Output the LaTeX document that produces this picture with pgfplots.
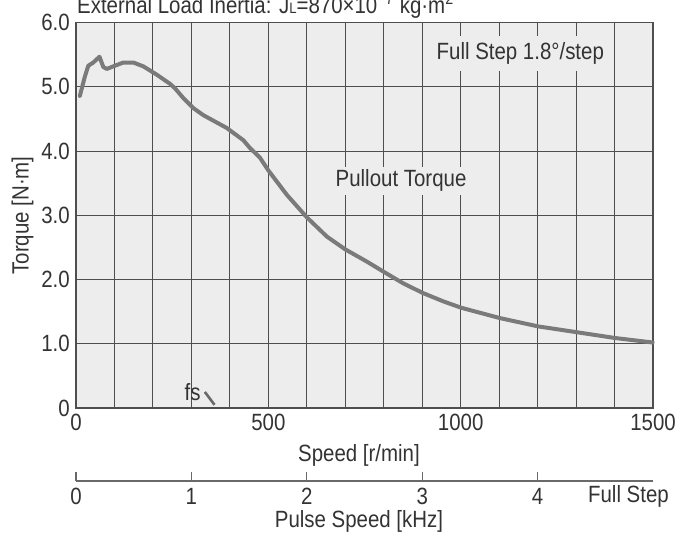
\documentclass[border=0pt]{standalone}
\usepackage{fontspec}
\setmainfont{Liberation Sans}[FakeStretch=0.87]
\usepackage{pgfplots}
\pgfplotsset{compat=1.18}
\definecolor{bgc}{HTML}{EDEDED}
\definecolor{gridc}{HTML}{4E4E4E}
\definecolor{curvec}{HTML}{7A7A7A}
\definecolor{txt}{HTML}{333333}
\newcommand\fs{\fontsize{23.5pt}{27pt}\selectfont}
\begin{document}
\begin{tikzpicture}
\useasboundingbox (-76pt,-126pt) rectangle (603pt,408pt);
\begin{axis}[
  at={(0pt,0pt)}, anchor=south west,
  scale only axis, width=577pt, height=385.3pt,
  xmin=0, xmax=1500, ymin=0, ymax=6,
  xtick={0,500,1000,1500}, xticklabels={0,500,1000,1500},
  minor xtick={100,200,...,1400},
  ytick={0,1,2,3,4,5,6}, yticklabels={0,1.0,2.0,3.0,4.0,5.0,6.0},
  grid=both,
  major grid style={gridc, line width=1.1pt},
  minor grid style={gridc, line width=1.1pt},
  major tick length=0pt, minor tick length=0pt,
  axis background/.style={fill=bgc},
  axis line style={gridc, line width=1.2pt},
  /pgf/number format/assume math mode=true,
  tick label style={font=\fs, text=txt},
  xticklabel style={inner sep=0pt, anchor=north, yshift=-5.5pt},
  yticklabel style={inner sep=0pt, anchor=east, xshift=-6pt},
  clip=false,
]
\addplot[curvec, line width=4pt, line join=round, line cap=round] coordinates {
 (10,4.86) (23,5.16) (32,5.33) (45,5.38) (61,5.47) (71,5.31) (80,5.28)
 (97,5.32) (123,5.38) (149,5.38) (175,5.32) (210,5.19) (244,5.05) (257,4.98)
 (280,4.82) (305,4.67) (331,4.56) (392,4.36) (435,4.17) (452,4.05) (478,3.9)
 (500,3.70) (548,3.32) (600,2.97) (652,2.67) (700,2.47) (756,2.28) (803,2.11)
 (851,1.94) (902,1.79) (955,1.66) (1002,1.56) (1102,1.40) (1202,1.27)
 (1302,1.18) (1401,1.09) (1499,1.02)
};
\addplot[gridc!85, line width=2.6pt] coordinates {(335,0.25) (360,0.05)};
\node[fill=bgc, inner xsep=5pt, inner ysep=6.5pt, font=\fs, text=txt] at (axis cs:1155,5.515) {Full Step 1.8°/step};
\node[fill=bgc, inner xsep=4pt, inner ysep=3pt, font=\fs, text=txt] at (axis cs:845,3.54) {Pullout Torque};
\node[inner sep=0pt, font=\fs, text=txt] at (axis cs:303,0.24) {fs};
\end{axis}
\begin{axis}[
  at={(0pt,-73pt)}, anchor=south west,
  scale only axis, width=577pt, height=20pt,
  xmin=0, xmax=5, ymin=0, ymax=1,
  axis x line=bottom, axis y line=none,
  axis line style={-, gridc!85, line width=1.1pt},
  xtick={0,1,2,3,4}, xticklabels={0,1,2,3,4},
  tick align=inside, major tick length=9pt,
  tick style={gridc!85, line width=1.1pt},
  xticklabel style={font=\fs, text=txt, inner sep=0pt, anchor=north, yshift=-7pt},
]
\end{axis}
\node[font=\fs, text=txt] at (283pt,-47pt) {Speed [r/min]};
\node[font=\fs, text=txt] at (283pt,-113pt) {Pulse Speed [kHz]};
\node[font=\fs, text=txt, rotate=90] at (-53.5pt,192.6pt) {Torque [N·m]};
\node[font=\fs, text=txt, anchor=east, inner sep=0pt] at (593pt,-88.7pt) {Full Step};
\node[font=\fs, text=txt, anchor=base west, inner sep=0pt] at (1pt,394.7pt) {External Load Inertia: J{\fontsize{15pt}{17pt}\selectfont L}=870×10\textsuperscript{−7} kg·m\textsuperscript{2}};
\end{tikzpicture}
\end{document}
